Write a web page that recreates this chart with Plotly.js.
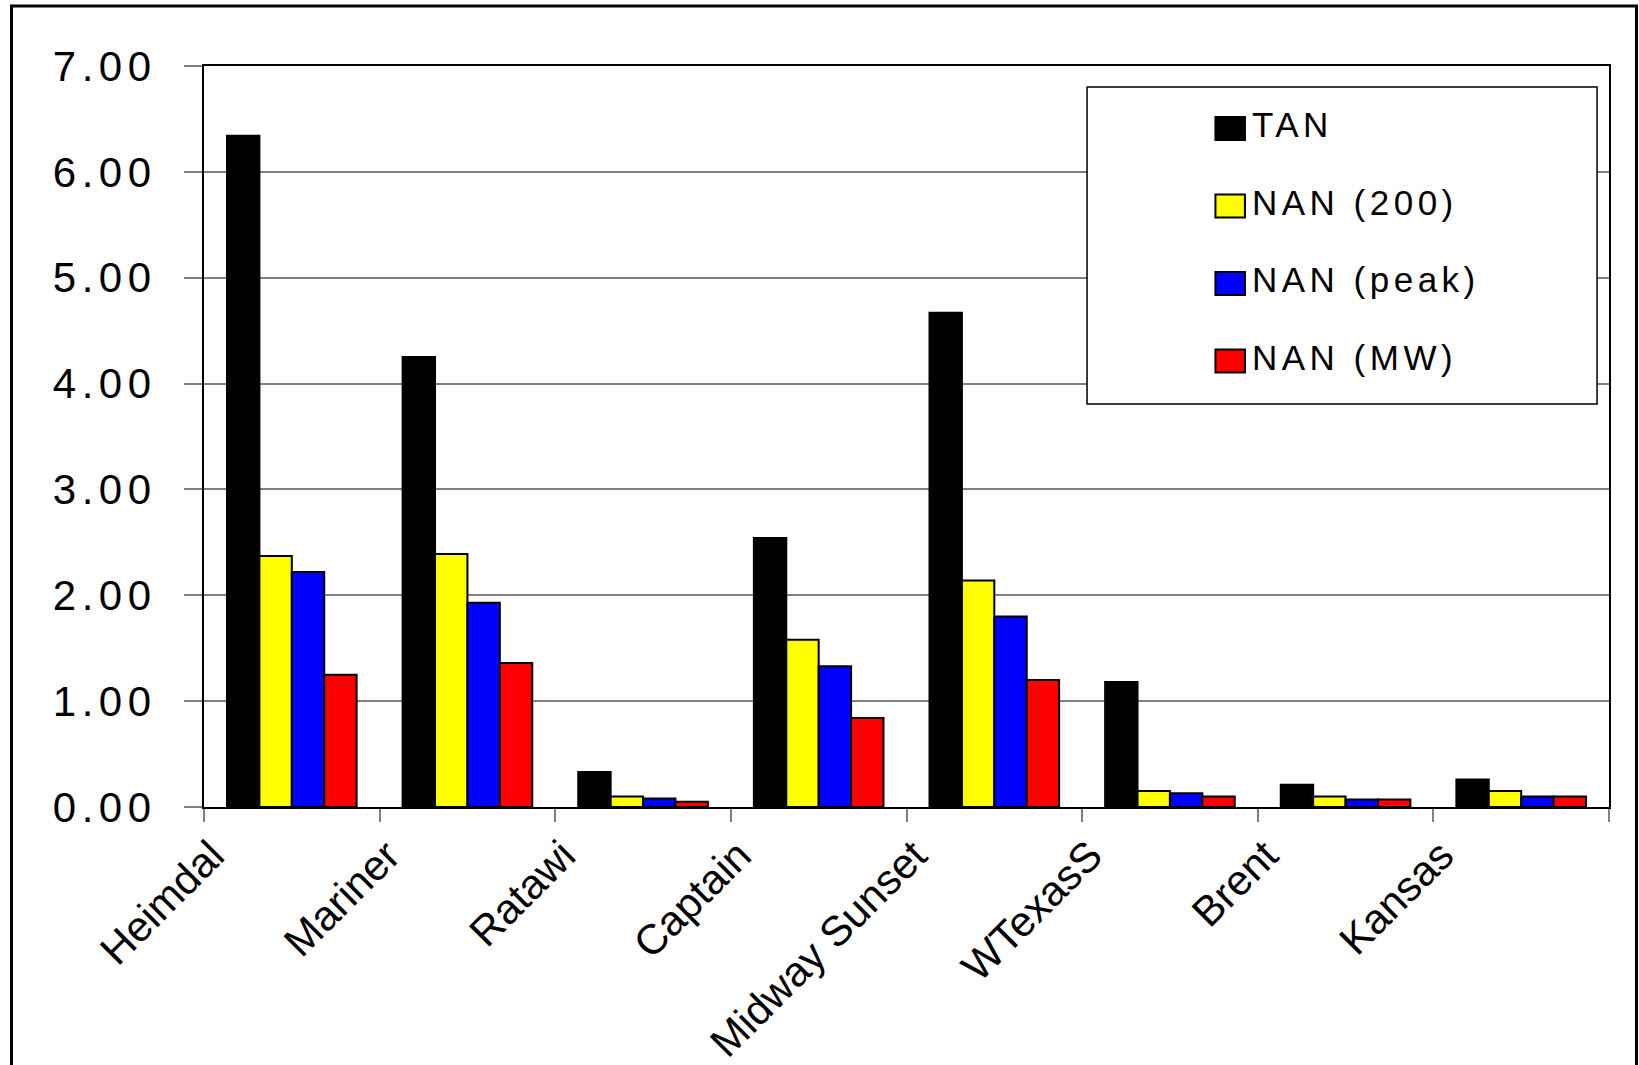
<!DOCTYPE html>
<html>
<head>
<meta charset="utf-8">
<script src="https://cdn.plot.ly/plotly-3.0.1.min.js"></script>
<style>
  html, body { margin: 0; padding: 0; background: #ffffff; }
  #chart { width: 1639px; height: 1065px; }
  .legendtext { letter-spacing: 4.5px; }
  .ytick text { letter-spacing: 5.5px; }
</style>
</head>
<body>
<div id="chart"></div>
<script>
// ---- data ----
const categories = ["Heimdal", "Mariner", "Ratawi", "Captain", "Midway Sunset", "WTexasS", "Brent", "Kansas"];
const seriesNames = ["TAN", "NAN (200)", "NAN (peak)", "NAN (MW)"];
const tan      = [6.34, 4.25, 0.33, 2.54, 4.67, 1.18, 0.21, 0.26];
const nan200   = [2.37, 2.39, 0.10, 1.58, 2.14, 0.15, 0.10, 0.15];
const nanPeak  = [2.22, 1.93, 0.08, 1.33, 1.80, 0.13, 0.07, 0.10];
const nanMW    = [1.25, 1.36, 0.05, 0.84, 1.20, 0.10, 0.07, 0.10];
const seriesColors = ["#000000", "#FFFF00", "#0000FF", "#FF0000"];
const yTickVals = [0, 1, 2, 3, 4, 5, 6, 7];

const seriesValues = [tan, nan200, nanPeak, nanMW];
const FONT = "Arial, 'Liberation Sans', sans-serif";

const traces = seriesValues.map((vals, i) => ({
  type: "bar",
  name: seriesNames[i],
  x: categories,
  y: vals,
  legendgroup: "g" + i,
  marker: { color: seriesColors[i], line: { color: "#000000", width: 2 } },
  hoverinfo: "x+y+name"
}));

const layout = {
  width: 1639,
  height: 1065,
  margin: { l: 204, r: 30, t: 66, b: 258 },
  paper_bgcolor: "#ffffff",
  plot_bgcolor: "#ffffff",
  barmode: "group",
  bargap: 0.262,
  bargroupgap: 0,
  font: { family: FONT, color: "#000000" },
  xaxis: {
    type: "category",
    showgrid: false,
    showline: true,
    linecolor: "#000000",
    linewidth: 2,
    mirror: true,
    ticks: "outside",
    tickson: "boundaries",
    ticklen: 13,
    tickwidth: 2,
    tickcolor: "#808080",
    tickangle: -45,
    ticklabelshift: -80,
    ticklabelstandoff: 5,
    tickfont: { family: FONT, size: 42, color: "#000000" },
    zeroline: false
  },
  yaxis: {
    range: [0, 7],
    tickvals: yTickVals,
    tickformat: ".2f",
    showgrid: true,
    gridcolor: "#808080",
    gridwidth: 1.5,
    showline: true,
    linecolor: "#000000",
    linewidth: 2,
    mirror: true,
    ticks: "outside",
    ticklen: 18,
    tickwidth: 2,
    tickcolor: "#808080",
    ticklabelstandoff: 19,
    tickfont: { family: FONT, size: 42, color: "#000000" },
    zeroline: false
  },
  showlegend: true,
  legend: {
    x: 0.7174,
    y: 0.962,
    xanchor: "left",
    yanchor: "top",
    bgcolor: "rgba(0,0,0,0)",
    borderwidth: 0,
    tracegroupgap: 29,
    font: { family: FONT, size: 35, color: "#000000" }
  },
  shapes: [
    // legend box
    {
      type: "rect", xref: "paper", yref: "paper",
      x0: 0.6285, x1: 0.9915, y0: 0.5439, y1: 0.9717,
      fillcolor: "#ffffff",
      line: { color: "#000000", width: 1.5 },
      layer: "above"
    },
    // outer chart frame
    {
      type: "rect", xref: "paper", yref: "paper",
      x0: -0.13701, x1: 1.01957, y0: -0.3954, y1: 1.08097,
      fillcolor: "rgba(0,0,0,0)",
      line: { color: "#000000", width: 3 },
      layer: "above"
    }
  ]
};

function enlargeLegendSwatches() {
  document.querySelectorAll("#chart .legend .legendpoints path").forEach(p => {
    p.setAttribute("d", "M13,16.5H-16.5V-6.5H13Z");
  });
}

const gd = document.getElementById("chart");
Plotly.newPlot(gd, traces, layout, { displayModeBar: false, responsive: false })
  .then(() => {
    enlargeLegendSwatches();
    gd.on("plotly_afterplot", enlargeLegendSwatches);
  });
</script>
</body>
</html>
